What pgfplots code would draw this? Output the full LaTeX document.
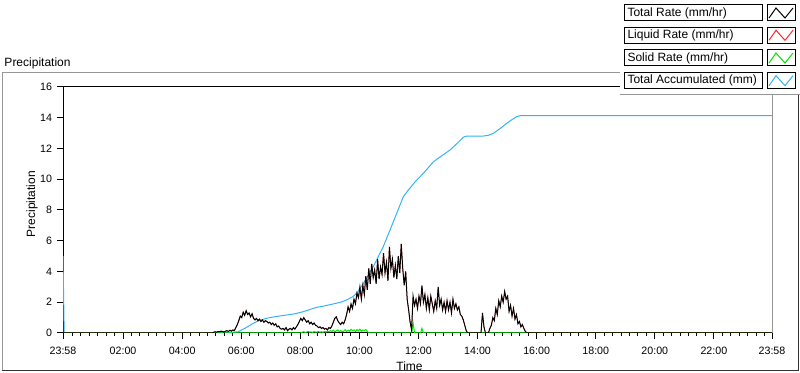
\documentclass[border=0pt]{standalone}
\usepackage{pgfplots}
\pgfplotsset{compat=1.18}
\usepackage{pgfplotstable}
\usepackage{fontspec}
\setmainfont{Liberation Sans}
\definecolor{accblue}{RGB}{50,180,245}
\definecolor{solgreen}{RGB}{0,230,0}
\definecolor{liqred}{RGB}{255,40,40}
\definecolor{framegray}{RGB}{150,150,150}

\pgfplotstableread{
t total liquid solid
0 0 0 0
5.00 0 0 0
5.05 0 0 0
5.10 0.05 0.05 0
5.15 0.08 0.08 0
5.20 0.05 0.05 0
5.25 0.10 0.10 0
5.30 0.08 0.08 0
5.35 0.12 0.12 0
5.40 0.10 0.10 0
5.45 0.06 0.06 0
5.50 0.12 0.12 0
5.55 0.15 0.15 0
5.60 0.10 0.10 0
5.65 0.18 0.18 0
5.70 0.12 0.12 0
5.75 0.20 0.20 0
5.80 0.15 0.15 0
5.85 0.35 0.35 0
5.90 0.55 0.55 0
5.95 0.80 0.80 0
6.00 1.10 1.10 0
6.05 1.00 1.00 0
6.10 1.35 1.35 0
6.15 1.15 1.15 0
6.20 1.45 1.45 0
6.25 1.20 1.20 0
6.30 1.30 1.30 0
6.35 1.05 1.05 0
6.40 1.25 1.25 0
6.45 0.95 0.95 0
6.50 0.85 0.85 0
6.55 0.95 0.95 0
6.60 0.80 0.80 0
6.65 0.90 0.90 0
6.70 0.75 0.75 0
6.75 0.85 0.85 0
6.80 0.70 0.70 0
6.85 0.80 0.80 0
6.90 0.75 0.75 0
6.95 0.65 0.65 0
7.00 0.70 0.70 0
7.05 0.55 0.55 0
7.10 0.65 0.65 0
7.15 0.50 0.50 0
7.20 0.60 0.60 0
7.25 0.40 0.40 0
7.30 0.45 0.45 0
7.35 0.30 0.30 0
7.40 0.25 0.25 0
7.45 0.30 0.30 0
7.50 0.20 0.20 0
7.55 0.35 0.35 0
7.60 0.15 0.15 0
7.65 0.25 0.25 0
7.70 0.30 0.30 0
7.75 0.20 0.20 0
7.80 0.35 0.35 0
7.85 0.25 0.25 0
7.90 0.40 0.40 0
7.95 0.55 0.55 0
8.00 0.75 0.75 0
8.05 0.95 0.95 0
8.10 0.80 0.80 0.05
8.15 1.00 1.00 0.08
8.20 0.85 0.85 0.04
8.25 0.70 0.70 0.06
8.30 0.80 0.80 0.10
8.35 0.60 0.60 0.05
8.40 0.70 0.70 0.07
8.45 0.55 0.55 0.04
8.50 0.65 0.65 0.09
8.55 0.50 0.50 0.05
8.60 0.45 0.45 0.06
8.65 0.35 0.35 0.10
8.70 0.40 0.40 0.05
8.75 0.30 0.30 0.08
8.80 0.35 0.35 0.04
8.85 0.25 0.25 0.10
8.90 0.30 0.30 0.06
8.95 0.20 0.20 0.12
9.00 0.35 0.35 0.08
9.05 0.30 0.30 0.15
9.10 0.45 0.45 0.10
9.15 0.70 0.70 0.18
9.20 0.95 0.95 0.08
9.25 1.05 1.05 0.14
9.30 0.80 0.80 0.20
9.35 0.65 0.65 0.10
9.40 0.55 0.55 0.16
9.45 0.70 0.70 0.08
9.50 0.60 0.60 0.12
9.55 0.85 0.85 0.22
9.60 1.20 1.20 0.10
9.65 1.70 1.70 0.18
9.70 1.40 1.40 0.12
9.75 1.90 1.70 0.24
9.80 1.60 1.60 0.15
9.85 2.20 2.20 0.20
9.90 1.90 1.90 0.10
9.95 2.60 2.60 0.22
10.00 2.30 2.30 0.14
10.05 3.00 2.80 0.25
10.10 2.20 2.20 0.12
10.15 3.10 3.10 0.20
10.20 2.50 2.50 0.16
10.25 3.70 3.70 0.22
10.30 2.80 2.80 0.10
10.35 4.20 4.20 0
10.40 3.20 3.20 0
10.45 4.50 4.50 0
10.50 3.60 3.60 0
10.55 4.10 4.10 0
10.60 3.20 3.20 0
10.65 4.80 4.80 0
10.70 3.50 3.50 0
10.75 4.30 4.30 0
10.80 3.80 3.80 0
10.85 5.20 5.20 0
10.90 3.90 3.90 0
10.95 4.60 4.60 0
11.00 3.40 3.40 0
11.05 5.60 5.60 0
11.10 4.20 4.20 0
11.15 4.80 4.80 0
11.20 3.60 3.60 0
11.25 4.40 4.40 0
11.30 3.50 3.50 0
11.35 5.00 5.00 0
11.40 3.90 3.90 0
11.45 5.80 5.80 0
11.50 4.20 4.20 0
11.55 3.10 3.10 0
11.60 4.00 4.00 0
11.65 2.20 2.20 0
11.70 1.50 1.50 0
11.75 0.70 0.70 0
11.80 0.20 0.20 0
11.85 2.40 2.20 0.65
11.90 1.80 1.80 0
11.95 2.20 2.20 0
12.00 1.60 1.60 0
12.05 2.40 2.40 0
12.10 1.90 1.90 0
12.15 3.10 3.00 0.30
12.20 2.00 2.00 0
12.25 2.50 2.50 0
12.30 1.60 1.60 0
12.35 2.30 2.30 0
12.40 1.50 1.50 0
12.45 2.40 2.40 0
12.50 1.90 1.90 0
12.55 1.40 1.40 0
12.60 2.10 2.10 0
12.65 1.60 1.60 0
12.70 3.00 3.00 0
12.75 1.80 1.80 0
12.80 2.20 2.20 0
12.85 1.50 1.50 0
12.90 2.00 2.00 0
12.95 1.40 1.40 0
13.00 2.10 2.10 0
13.05 1.50 1.50 0
13.10 2.00 2.00 0
13.15 1.30 1.30 0
13.20 2.20 2.20 0
13.25 1.60 1.60 0
13.30 1.90 1.90 0
13.35 1.50 1.50 0
13.40 1.70 1.70 0
13.45 1.20 1.20 0
13.50 1.10 1.10 0
13.55 0.85 0.85 0
13.60 0.50 0.50 0
13.65 0.15 0.15 0
13.70 0 0 0
14.15 0 0 0
14.20 1.30 1.30 0
14.25 0.40 0.40 0
14.30 0 0 0
14.40 0 0 0
14.45 0.30 0.30 0
14.50 0.50 0.50 0
14.55 1.00 1.00 0
14.60 0.80 0.80 0
14.65 1.60 1.60 0
14.70 1.20 1.20 0
14.75 2.10 2.10 0
14.80 1.70 1.70 0
14.85 2.40 2.40 0
14.90 2.00 2.00 0
14.95 2.70 2.70 0
15.00 2.20 2.20 0
15.05 2.40 2.40 0
15.10 1.40 1.40 0
15.15 1.80 1.80 0
15.20 1.10 1.10 0
15.25 1.60 1.60 0
15.30 0.90 0.90 0
15.35 1.20 1.20 0
15.40 0.60 0.60 0
15.45 0.75 0.75 0
15.50 0.40 0.40 0
15.55 0.55 0.55 0
15.60 0.30 0.30 0
15.65 0.10 0.10 0
15.70 0 0 0
24 0 0 0
}\rates

\pgfplotstableread{
t acc
0 5.0
0.02 2.5
0.04 0
5.50 0
5.93 0.08
6.20 0.35
6.44 0.63
6.65 0.82
6.90 0.96
7.20 1.07
7.57 1.17
7.85 1.25
8.14 1.39
8.35 1.52
8.59 1.67
8.85 1.76
9.15 1.89
9.40 2.00
9.60 2.15
9.80 2.35
9.94 2.58
10.17 3.23
10.50 4.31
10.84 5.61
11.07 6.70
11.30 7.80
11.52 8.87
11.69 9.30
11.95 9.90
12.20 10.39
12.54 11.14
12.80 11.50
13.10 11.90
13.35 12.35
13.55 12.73
13.67 12.81
14.23 12.81
14.40 12.86
14.57 12.99
14.80 13.30
15.02 13.64
15.20 13.88
15.36 14.07
15.47 14.13
24 14.13
}\accum

\newcommand{\legentry}[3]{%
  \draw[black, fill=white] (624,#1) rectangle (762,#1+16);
  \node[anchor=west, inner sep=0pt, font=\fontsize{9}{10}\selectfont] at (627,#1+8) {#3};
  \draw[black, fill=white] (767,#1) rectangle (795,#1+16);
  \draw[#2] (769,#1+13) -- (776,#1+3) -- (785,#1+13) -- (793,#1+3);
}

\begin{document}
\begin{tikzpicture}
\path[use as bounding box] (0pt,0pt) rectangle (600pt,-279.75pt);
\begin{scope}[x=0.75pt,y=-0.75pt,line width=0.75pt]
  \draw[framegray] (2,371) -- (2,73) -- (798,73);
  \draw[black!80] (2,371) -- (798,371) -- (798,73);
  \node[anchor=west, inner sep=0pt, font=\fontsize{9}{10}\selectfont] at (4,63) {Precipitation};
\end{scope}
\begin{axis}[
  at={(47.25pt,-249.75pt)}, anchor=south west,
  scale only axis, width=531.75pt, height=184.5pt,
  xmin=0, xmax=24, ymin=0, ymax=16,
  xtick={0,2.0333,4.0333,6.0333,8.0333,10.0333,12.0333,14.0333,16.0333,18.0333,20.0333,22.0333,24},
  xticklabels={23:58,02:00,04:00,06:00,08:00,10:00,12:00,14:00,16:00,18:00,20:00,22:00,23:58},
  minor xtick={0.0333,0.3190,...,23.9},
  ytick={0,2,...,16},
  tick align=outside,
  xtick pos=bottom, ytick pos=left,
  major tick length=4.5pt, minor tick length=2.25pt,
  every tick/.style={black, line width=0.75pt},
  tick label style={font=\fontsize{8}{9}\selectfont},
  xticklabel style={yshift=-2pt},
  /pgf/number format/assume math mode=true,
  axis line style={line width=0.75pt},
  xlabel={Time}, ylabel={Precipitation},
  xlabel style={at={(axis description cs:0.4887,-0.134)}, anchor=center, font=\fontsize{9}{10}\selectfont},
  ylabel style={at={(axis description cs:-0.0437,0.524)}, anchor=center, font=\fontsize{9}{10}\selectfont},
  line width=0.75pt,
]
\addplot[accblue, line width=0.75pt] table[x=t, y=acc] {\accum};
\addplot[solgreen, line width=0.75pt] table[x=t, y=solid] {\rates};
\addplot[liqred, line width=0.4pt] table[x=t, y=liquid] {\rates};
\addplot[black, line width=0.75pt] table[x=t, y=total] {\rates};
\end{axis}
\begin{scope}[x=0.75pt,y=-0.75pt,line width=0.75pt]
  \draw[framegray] (772,87) -- (772,333);
  \fill[white] (620,-1) rectangle (801,95);
  \draw[framegray] (620,95) -- (800,95);
  \legentry{5}{black}{Total Rate (mm/hr)}
  \legentry{27.3}{liqred}{Liquid Rate (mm/hr)}
  \legentry{50}{solgreen}{Solid Rate (mm/hr)}
  \legentry{72.7}{accblue}{Total Accumulated (mm)}
\end{scope}
\end{tikzpicture}
\end{document}
